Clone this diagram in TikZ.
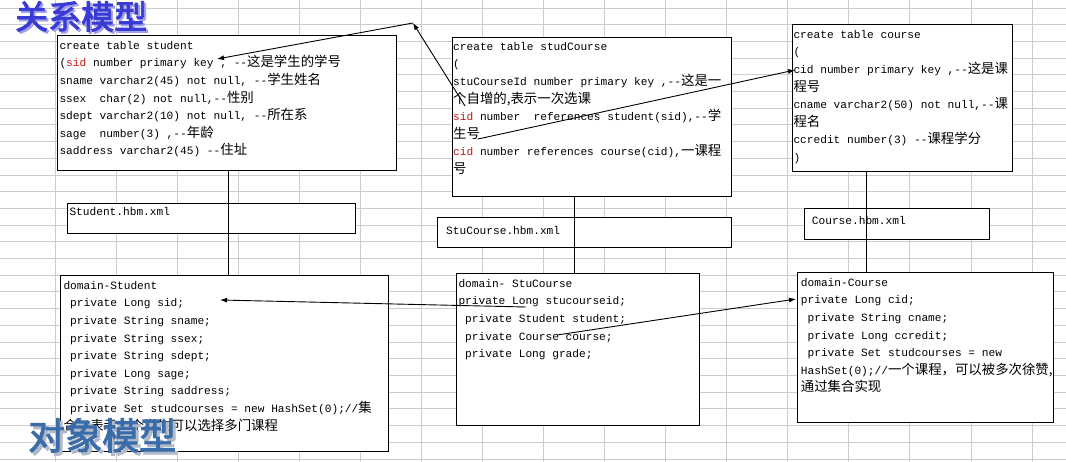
\documentclass[tikz,border=0pt]{standalone}
\usepackage{fontspec}
\setmonofont{Liberation Mono}
\newfontfamily\cjk[Scale=1.2]{Noto Sans CJK SC}
\newfontfamily\titlefont[FakeBold=2.5]{Noto Sans CJK SC}
\usetikzlibrary{arrows.meta}
\definecolor{gridc}{RGB}{205,205,205}
\definecolor{keyred}{RGB}{200,20,20}
\definecolor{titleA}{RGB}{58,58,212}
\definecolor{titleAsh}{RGB}{160,160,235}
\definecolor{titleB}{RGB}{58,108,170}
\definecolor{titleBsh}{RGB}{175,185,200}
\newcommand\lsp{\hspace*{6.7pt}}
\newcommand\rd[1]{{\color{keyred}#1}}
\tikzset{
  box/.style={draw=black, line width=1.2pt, fill=white, inner sep=0pt, anchor=north west},
  txt/.style={anchor=north west, inner sep=0pt, align=left,
    font=\ttfamily\fontsize{11.17}{17.6}\selectfont},
  conn/.style={draw=black, line width=0.9pt},
  arr/.style={conn, -{Latex[length=7pt,width=5pt]}},
}
\begin{document}
\begin{tikzpicture}[x=1pt,y=-1pt]
\fill[white] (0,0) rectangle (1066,462);
\useasboundingbox (0,0) rectangle (1066,462);
% spreadsheet grid
\foreach \i in {0,...,16} \draw[gridc, line width=0.8pt] ({55+61.06*\i},0) -- ({55+61.06*\i},462);
\foreach \j in {0,...,27} \draw[gridc, line width=0.8pt] (0,{8+16.7*\j}) -- (1066,{8+16.7*\j});

% title 1
\node[anchor=north west, inner sep=0pt, text=titleAsh, font=\titlefont\fontsize{33}{33}\selectfont] (t1s) at (17,3) {关系模型};
\node[anchor=north west, inner sep=0pt, text=titleA, font=\titlefont\fontsize{33}{33}\selectfont] (t1) at (15,1) {关系模型};

% relational tables
\node[box, minimum width=339pt, minimum height=135pt] (s1) at (57,35) {};
\node[txt] (s1t) at ([shift={(2.3,1.7)}]s1.north west) {\strut create table student\\
(\rd{sid} number primary key , -{}-{\cjk 这是学生的学号}\\
sname varchar2(45) not null, -{}-{\cjk 学生姓名}\\
ssex\lsp{} char(2) not null,-{}-{\cjk 性别}\\
sdept varchar2(10) not null, -{}-{\cjk 所在系}\\
sage\lsp{} number(3) ,-{}-{\cjk 年龄}\\
saddress varchar2(45) -{}-{\cjk 住址}};

\node[box, minimum width=279pt, minimum height=159pt] (s2) at (452,37) {};
\node[txt] (s2t) at ([shift={(1,0.7)}]s2.north west) {\strut create table studCourse\\
(\\
stuCourseId number primary key ,-{}-{\cjk 这是一}\\
{\cjk 个自增的,表示一次选课}\\
\rd{sid} number\lsp{} references student(sid),-{}-{\cjk 学}\\
{\cjk 生号}\\
\rd{cid} number references course(cid),{\cjk 一课程}\\
{\cjk 号}};

\node[box, minimum width=220pt, minimum height=147pt] (s3) at (792,24) {};
\node[txt] (s3t) at ([shift={(1.3,1.7)}]s3.north west) {\strut create table course\\
(\\
cid number primary key ,-{}-{\cjk 这是课}\\
{\cjk 程号}\\
cname varchar2(50) not null,-{}-{\cjk 课}\\
{\cjk 程名}\\
ccredit number(3) -{}-{\cjk 课程学分}\\
)};

% mapping files
\node[box, minimum width=288pt, minimum height=30pt] (h1) at (67,203) {};
\node[txt] (h1t) at ([shift={(2.3,0.4)}]h1.north west) {\strut Student.hbm.xml};
\node[box, minimum width=294pt, minimum height=30pt] (h2) at (437,217) {};
\node[txt] (h2t) at ([shift={(9,4.7)}]h2.north west) {\strut StuCourse.hbm.xml};
\node[box, minimum width=185pt, minimum height=31pt] (h3) at (804,208) {};
\node[txt] (h3t) at ([shift={(7.7,3.7)}]h3.north west) {\strut Course.hbm.xml};

% domain classes
\node[box, minimum width=328pt, minimum height=176pt] (d1) at (60,275) {};
\node[txt] (d1t) at ([shift={(3.3,1.7)}]d1.north west) {\strut domain-Student\\
\lsp private Long sid;\\
\lsp private String sname;\\
\lsp private String ssex;\\
\lsp private String sdept;\\
\lsp private Long sage;\\
\lsp private String saddress;\\
\lsp private Set studcourses = new HashSet(0);//{\cjk 集}\\
{\cjk 合，表示一个学生可以选择多门课程}};

\node[box, minimum width=243pt, minimum height=152pt] (d2) at (456,273) {};
\node[txt] (d2t) at ([shift={(2.3,1.7)}]d2.north west) {\strut domain-\lsp StuCourse\\
private Long stucourseid;\\
\lsp private Student student;\\
\lsp private Course course;\\
\lsp private Long grade;};

\node[box, minimum width=256pt, minimum height=150pt] (d3) at (797,272) {};
\node[txt] (d3t) at ([shift={(3.7,1.7)}]d3.north west) {\strut domain-Course\\
private Long cid;\\
\lsp private String cname;\\
\lsp private Long ccredit;\\
\lsp private Set studcourses = new\\
HashSet(0);//{\cjk 一个课程，可以被多次徐赞,}\\
{\cjk 通过集合实现}};

% title 2
\node[anchor=north west, inner sep=0pt, text=titleBsh, font=\titlefont\fontsize{37}{37}\selectfont] (t2s) at (31,421) {对象模型};
\node[anchor=north west, inner sep=0pt, text=titleB, font=\titlefont\fontsize{37}{37}\selectfont] (t2) at (28,418) {对象模型};

% vertical links
\draw[conn] ([xshift=1.5pt]s1.south) -- ([xshift=1.5pt]s1.south |- d1.north);
\draw[conn] ([xshift=-17.5pt]s2.south) -- ([xshift=-17.5pt]s2.south |- d2.north);
\draw[conn] ([xshift=-36pt]s3.south) -- ([xshift=-36pt]s3.south |- d3.north);

% arrows
\coordinate (pA) at (465,106);
\coordinate (bend) at (413,23);
\coordinate (pS) at (217,59);
\coordinate (pB) at (478,139);
\coordinate (pC) at (795,70);
\coordinate (qA) at (526,307);
\coordinate (qS) at (220,300);
\coordinate (qB) at (557,335);
\coordinate (qC) at (796,299);
\draw[arr] (pA) -- (bend);
\draw[arr] (bend) -- (pS);
\draw[arr] (pB) -- (pC);
\draw[arr] (qA) -- (qS);
\draw[arr] (qB) -- (qC);
\end{tikzpicture}
\end{document}
